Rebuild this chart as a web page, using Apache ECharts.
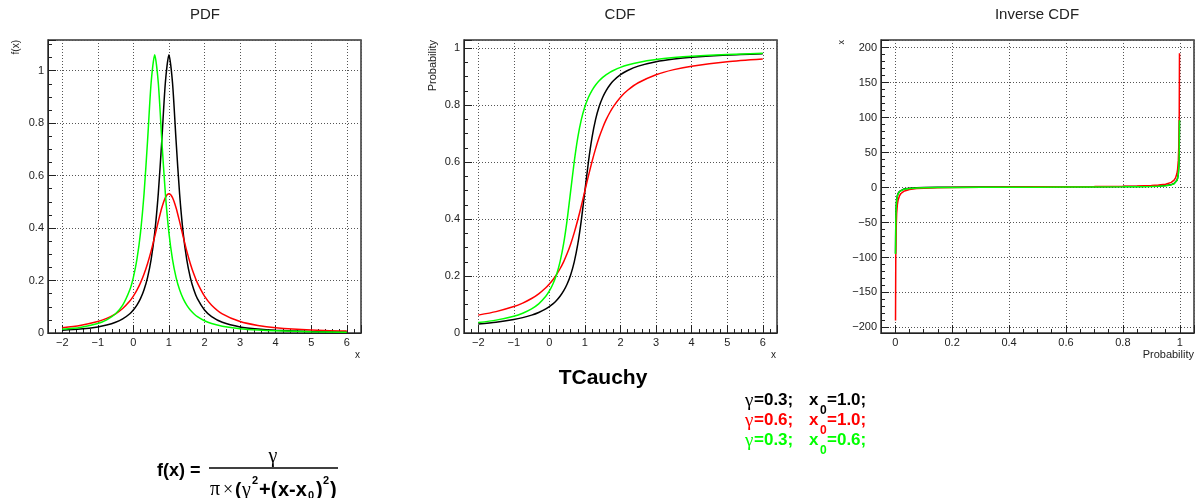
<!DOCTYPE html>
<html>
<head>
<meta charset="utf-8">
<title>TCauchy</title>
<script src="https://cdn.jsdelivr.net/npm/echarts@6/dist/echarts.min.js"></script>
<style>
  html, body { margin: 0; padding: 0; background: #fff; }
  #main { width: 1196px; height: 498px; }
</style>
</head>
<body>
<div id="main"></div>
<script>
// x positions used for the PDF and CDF curves
var xs = [-2, -1.5, -1, -0.75, -0.5, -0.3, -0.1, 0, 0.1, 0.2, 0.3, 0.4, 0.5, 0.6, 0.7, 0.8, 0.9, 1.0,
  1.1, 1.2, 1.3, 1.4, 1.5, 1.6, 1.7, 1.8, 2.0, 2.2, 2.5, 3, 3.5, 4, 5, 6];

// PDF  (black: g=0.3 x0=1.0, red: g=0.6 x0=1.0, green: g=0.3 x0=0.6)
var pdfBlack = [0.0105, 0.0151, 0.0233, 0.0303, 0.0408, 0.0536, 0.0735, 0.0876, 0.1061, 0.1308, 0.1646,
  0.2122, 0.2809, 0.3820, 0.5305, 0.7346, 0.9549, 1.0610, 0.9549, 0.7346, 0.5305, 0.3820, 0.2809, 0.2122,
  0.1646, 0.1308, 0.0876, 0.0624, 0.0408, 0.0233, 0.0151, 0.0105, 0.0059, 0.0038];
var pdfRed = [0.0204, 0.0289, 0.0438, 0.0558, 0.0732, 0.0932, 0.1216, 0.1404, 0.1632, 0.1910, 0.2247,
  0.2653, 0.3131, 0.3673, 0.4244, 0.4775, 0.5162, 0.5305, 0.5162, 0.4775, 0.4244, 0.3673, 0.3131, 0.2653,
  0.2247, 0.1910, 0.1404, 0.1061, 0.0732, 0.0438, 0.0289, 0.0204, 0.0117, 0.0075];
var pdfGreen = [0.0139, 0.0212, 0.0360, 0.0499, 0.0735, 0.1061, 0.1646, 0.2122, 0.2809, 0.3820, 0.5305,
  0.7346, 0.9549, 1.0610, 0.9549, 0.7346, 0.5305, 0.3820, 0.2809, 0.2122, 0.1646, 0.1308, 0.1061, 0.0876,
  0.0735, 0.0624, 0.0466, 0.0360, 0.0258, 0.0163, 0.0112, 0.0082, 0.0049, 0.0033];

// CDF
var cdfBlack = [0.0317, 0.0380, 0.0474, 0.0540, 0.0628, 0.0722, 0.0848, 0.0928, 0.1024, 0.1142, 0.1289,
  0.1476, 0.1720, 0.2048, 0.2500, 0.3128, 0.3976, 0.5000, 0.6024, 0.6872, 0.7500, 0.7952, 0.8280, 0.8524,
  0.8711, 0.8858, 0.9072, 0.9220, 0.9372, 0.9526, 0.9620, 0.9683, 0.9762, 0.9809];
var cdfRed = [0.0628, 0.0751, 0.0928, 0.1051, 0.1211, 0.1376, 0.1589, 0.1720, 0.1872, 0.2048, 0.2256,
  0.2500, 0.2789, 0.3128, 0.3524, 0.3976, 0.4474, 0.5000, 0.5526, 0.6024, 0.6476, 0.6872, 0.7211, 0.7500,
  0.7744, 0.7952, 0.8280, 0.8524, 0.8789, 0.9072, 0.9249, 0.9372, 0.9526, 0.9620];
var cdfGreen = [0.0366, 0.0452, 0.0590, 0.0696, 0.0848, 0.1024, 0.1289, 0.1476, 0.1720, 0.2048, 0.2500,
  0.3128, 0.3976, 0.5000, 0.6024, 0.6872, 0.7500, 0.7952, 0.8280, 0.8524, 0.8711, 0.8858, 0.8976, 0.9072,
  0.9152, 0.9220, 0.9328, 0.9410, 0.9502, 0.9604, 0.9672, 0.9720, 0.9783, 0.9823];

// Inverse CDF
var ps = [0.001, 0.002, 0.003, 0.005, 0.0075, 0.01, 0.015, 0.02, 0.03, 0.05, 0.075, 0.1, 0.15, 0.2, 0.3,
  0.4, 0.5, 0.6, 0.7, 0.8, 0.85, 0.9, 0.925, 0.95, 0.97, 0.98, 0.985, 0.99, 0.9925, 0.995, 0.997, 0.998, 0.999];
var invBlack = [-94.49, -46.75, -30.83, -18.10, -11.73, -8.55, -5.36, -3.77, -2.17, -0.89, -0.25, 0.08,
  0.41, 0.59, 0.78, 0.90, 1.00, 1.10, 1.22, 1.41, 1.59, 1.92, 2.25, 2.89, 4.17, 5.77, 7.36, 10.55, 13.73,
  20.10, 32.83, 48.75, 96.49];
var invRed = [-189.98, -94.49, -62.66, -37.19, -24.46, -18.09, -11.72, -8.54, -5.35, -2.79, -1.50, -0.85,
  -0.18, 0.17, 0.56, 0.81, 1.00, 1.19, 1.44, 1.83, 2.18, 2.85, 3.50, 4.79, 7.35, 10.54, 13.72, 20.09, 26.46,
  39.19, 64.66, 96.49, 191.98];
var invGreen = [-94.89, -47.15, -31.23, -18.50, -12.13, -8.95, -5.76, -4.17, -2.57, -1.29, -0.65, -0.32,
  0.01, 0.19, 0.38, 0.50, 0.60, 0.70, 0.82, 1.01, 1.19, 1.52, 1.85, 2.49, 3.77, 5.37, 6.96, 10.15, 13.33,
  19.70, 32.43, 48.35, 96.09];

var paramLines = [
  { g: "=0.3;", x0: "=1.0;", color: "#000000" },
  { g: "=0.6;", x0: "=1.0;", color: "#ff0000" },
  { g: "=0.3;", x0: "=0.6;", color: "#00ff00" }
];

var FONT = "'Liberation Sans', Arial, Helvetica, sans-serif";
var SYM = "'Liberation Serif', 'DejaVu Serif', serif";
var myChart = echarts.init(document.getElementById("main"), null, { renderer: "canvas" });

function pairs(xv, yv) {
  return xv.map(function (x, i) { return [x, yv[i]]; });
}

function axisCfg(gridIndex, min, max, step, minorSplit, hideMin) {
  return {
    type: "value",
    gridIndex: gridIndex,
    min: min,
    max: max,
    minInterval: step,
    maxInterval: step,
    splitNumber: 10,
    axisLine: { show: true, onZero: false, lineStyle: { color: "#222", width: 1 } },
    axisTick: { show: true, inside: true, length: 8, lineStyle: { color: "#222", width: 1 } },
    minorTick: { show: true, splitNumber: minorSplit, length: 4, lineStyle: { color: "#222", width: 1 } },
    axisLabel: {
      color: "#222",
      fontFamily: FONT,
      fontSize: 11,
      margin: 4,
      showMinLabel: !hideMin,
      showMaxLabel: false,
      formatter: function (v) { return String(v).replace("-", "\u2212"); }
    },
    splitLine: { show: true, lineStyle: { color: "#555", width: 1, type: [1, 2] } },
    minorSplitLine: { show: false }
  };
}

function line(name, xi, yi, data, color, smooth) {
  return {
    name: name,
    type: "line",
    xAxisIndex: xi,
    yAxisIndex: yi,
    data: data,
    showSymbol: false,
    smooth: smooth || false,
    lineStyle: { color: color, width: 1.5 },
    itemStyle: { color: color },
    emphasis: { disabled: true }
  };
}

function txt(x, y, text, opt) {
  opt = opt || {};
  return {
    type: "text",
    x: x,
    y: y,
    rotation: opt.rotation || 0,
    style: {
      text: text,
      fill: opt.color || "#222",
      font: (opt.weight || "normal") + " " + (opt.size || 11) + "px " + (opt.family || FONT),
      textAlign: opt.align || "left",
      textVerticalAlign: opt.valign || "middle"
    },
    z: 100
  };
}

var graphics = [
  txt(205, 15, "PDF", { size: 15, align: "center" }),
  txt(620, 15, "CDF", { size: 15, align: "center" }),
  txt(1037, 15, "Inverse CDF", { size: 15, align: "center" }),
  txt(16, 40, "f(x)", { size: 10, align: "right", rotation: Math.PI / 2 }),
  txt(360, 355, "x", { size: 10, align: "right" }),
  txt(433, 40, "Probability", { size: 11, align: "right", rotation: Math.PI / 2 }),
  txt(776, 355, "x", { size: 10, align: "right" }),
  txt(842, 40, "x", { size: 9, align: "right", rotation: Math.PI / 2 }),
  txt(1194, 355, "Probability", { size: 11, align: "right" }),
  txt(603, 378, "TCauchy", { size: 21, weight: "bold", align: "center", color: "#000" })
];

// parameter lines (x0 subscript drawn as its own small text)
var lineY = [400, 420, 440];
paramLines.forEach(function (p, i) {
  graphics.push(txt(745, lineY[i] + 1, "\u03b3", { size: 19, family: SYM, color: p.color }));
  graphics.push(txt(754, lineY[i], p.g, { size: 17, weight: "bold", color: p.color }));
  graphics.push(txt(809, lineY[i], "x", { size: 17, weight: "bold", color: p.color }));
  graphics.push(txt(820, lineY[i] + 11, "0", { size: 12, weight: "bold", color: p.color }));
  graphics.push(txt(827, lineY[i], p.x0, { size: 17, weight: "bold", color: p.color }));
});

// formula
graphics.push(txt(157, 471, "f(x) =", { size: 18, weight: "bold", color: "#000" }));
graphics.push({
  type: "line",
  shape: { x1: 209, y1: 468, x2: 338, y2: 468 },
  style: { stroke: "#000", lineWidth: 1.5 },
  z: 100
});
graphics.push(txt(273, 457, "\u03b3", { size: 20, family: SYM, align: "center", color: "#000" }));
graphics.push(txt(210, 490, "\u03c0", { size: 20, family: SYM, color: "#000" }));
graphics.push(txt(223, 490, "\u00d7", { size: 18, family: SYM, color: "#000" }));
graphics.push(txt(235, 490, "(", { size: 19, weight: "bold", color: "#000" }));
graphics.push(txt(242, 491, "\u03b3", { size: 20, family: SYM, color: "#000" }));
graphics.push(txt(252, 481, "2", { size: 11, weight: "bold", color: "#000" }));
graphics.push(txt(259, 490, "+(", { size: 20, weight: "bold", color: "#000" }));
graphics.push(txt(278, 490, "x-x", { size: 20, weight: "bold", color: "#000" }));
graphics.push(txt(308, 496, "0", { size: 11, weight: "bold", color: "#000" }));
graphics.push(txt(316, 490, ")", { size: 20, weight: "bold", color: "#000" }));
graphics.push(txt(323, 481, "2", { size: 11, weight: "bold", color: "#000" }));
graphics.push(txt(330, 490, ")", { size: 20, weight: "bold", color: "#000" }));

var gridStyle = { show: true, borderColor: "#333", borderWidth: 1.5, backgroundColor: "#fff", outerBoundsMode: "none", containLabel: false };

var option = {
  animation: false,
  backgroundColor: "#fff",
  textStyle: { fontFamily: FONT },
  grid: [
    Object.assign({ left: 48, top: 40, width: 313, height: 293 }, gridStyle),
    Object.assign({ left: 464, top: 40, width: 313, height: 293 }, gridStyle),
    Object.assign({ left: 881, top: 40, width: 313, height: 293 }, gridStyle)
  ],
  xAxis: [
    axisCfg(0, -2.4, 6.4, 1, 5, true),
    axisCfg(1, -2.4, 6.4, 1, 5, true),
    axisCfg(2, -0.05, 1.05, 0.2, 4, true)
  ],
  yAxis: [
    axisCfg(0, 0, 1.117, 0.2, 4, false),
    axisCfg(1, 0, 1.029, 0.2, 4, false),
    axisCfg(2, -208, 211, 50, 5, true)
  ],
  series: [
    line("pdf black", 0, 0, pairs(xs, pdfBlack), "#000000", 0.25),
    line("pdf red", 0, 0, pairs(xs, pdfRed), "#ff0000", 0.25),
    line("pdf green", 0, 0, pairs(xs, pdfGreen), "#00ff00", 0.25),
    line("cdf black", 1, 1, pairs(xs, cdfBlack), "#000000", 0.25),
    line("cdf red", 1, 1, pairs(xs, cdfRed), "#ff0000", 0.25),
    line("cdf green", 1, 1, pairs(xs, cdfGreen), "#00ff00", 0.25),
    line("inv black", 2, 2, pairs(ps, invBlack), "#000000"),
    line("inv red", 2, 2, pairs(ps, invRed), "#ff0000"),
    line("inv green", 2, 2, pairs(ps, invGreen), "#00ff00")
  ],
  graphic: graphics
};

myChart.setOption(option);
</script>
</body>
</html>
